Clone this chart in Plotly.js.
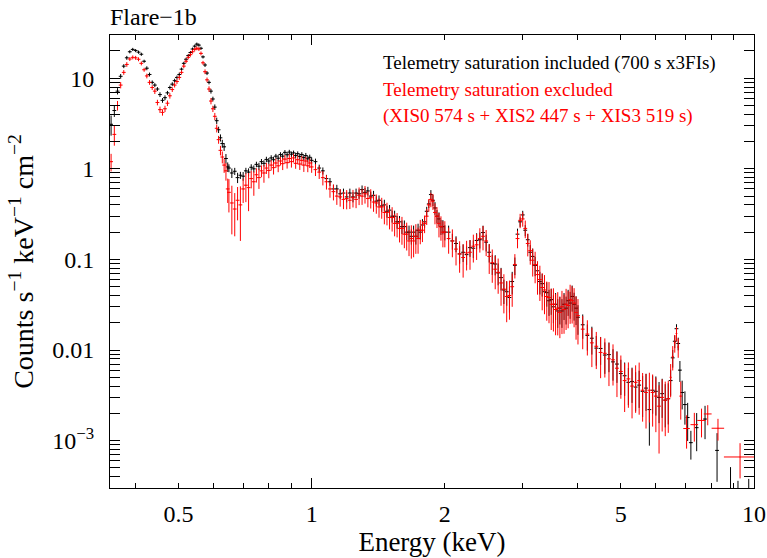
<!DOCTYPE html>
<html><head><meta charset="utf-8">
<script src="https://cdn.plot.ly/plotly-3.0.1.min.js"></script>
<style>html,body{margin:0;padding:0;background:#fff}#chart{width:767px;height:558px}</style>
</head><body><div id="chart"></div>
<script>
// Energy grid (keV), bin centres
const energyKeV = [
0.352,0.358,0.364,0.370,0.376,0.382,0.388,0.394,0.400,0.406,0.412,0.418,0.424,0.430,0.436,0.442,0.448,0.454,0.460,0.466,
0.472,0.478,0.484,0.490,0.496,0.502,0.508,0.514,0.520,0.526,0.532,0.538,0.544,0.550,0.556,0.562,0.568,0.574,0.580,0.586,
0.592,0.598,0.604,0.610,0.616,0.622,0.628,0.634,0.640,0.646,
0.65,0.66,0.67,0.68,0.69,0.70,0.71,0.72,0.73,0.74,0.75,0.76,0.77,0.78,0.79,0.80,0.81,0.82,0.83,0.84,
0.85,0.86,0.87,0.88,0.89,0.90,0.91,0.92,0.93,0.94,0.95,0.96,0.97,0.98,0.99,1.00,
1.02,1.04,1.06,1.08,1.10,1.12,1.14,1.16,1.18,1.20,1.22,1.24,1.26,1.28,1.30,1.32,1.34,1.36,1.38,1.40,
1.42,1.44,1.46,1.48,1.50,1.52,1.54,1.56,1.58,1.60,1.62,1.64,1.66,1.68,1.70,1.72,1.74,1.76,1.78,1.80,
1.82,1.84,1.86,1.88,1.90,1.92,1.94,1.96,1.98,2.00,
2.04,2.08,2.12,2.16,2.20,2.24,2.28,2.32,2.36,2.40,2.44,2.48,2.52,2.56,2.60,2.64,2.68,2.72,2.76,2.80,
2.84,2.88,2.92,2.96,3.00,3.04,3.08,3.12,3.16,3.20,3.24,3.28,3.32,3.36,3.40,3.44,3.48,3.52,3.56,3.60,
3.64,3.68,3.72,3.76,3.80,3.84,3.88,3.92,3.96,4.00,
4.1,4.2,4.3,4.4,4.5,4.6,4.7,4.8,4.9,5.0,5.1,5.2,5.3,5.4,5.5,5.6,5.7,5.8,5.9,6.0,6.1,6.2,6.3,6.4,
6.48,6.55,6.62,6.68,6.74,6.80,6.88,6.98,7.08,7.20,7.42,7.75,8.25,8.85,9.20,9.73];

// Telemetry saturation included (black), counts s^-1 keV^-1 cm^-2
const countsIncluded = [
3.1,4.4,7.2,10.5,13.6,16.8,19.6,20.8,20.2,19.4,18.4,15.4,12.9,11.0,9.0,8.4,7.6,6.6,5.7,6.1,
6.9,7.9,8.6,9.4,10.2,11.0,12.6,14.6,16.2,17.8,19.2,21.0,22.6,23.8,23.2,21.4,17.2,14.0,11.4,9.0,
7.2,5.9,4.8,3.4,2.7,2.2,1.9,1.75,1.3,1.05,
1.02,0.90,0.94,0.80,0.85,0.83,0.95,0.92,1.04,1.00,1.12,1.07,1.20,1.15,1.27,1.22,1.32,1.26,1.38,1.31,
1.44,1.38,1.52,1.43,1.53,1.45,1.50,1.40,1.47,1.37,1.44,1.33,1.40,1.29,1.34,1.24,
1.20,1.02,0.95,0.78,0.72,0.60,0.60,0.53,0.54,0.49,0.54,0.49,0.54,0.53,0.59,0.55,0.57,0.50,0.51,0.44,
0.45,0.39,0.40,0.34,0.35,0.30,0.30,0.26,0.26,0.23,0.23,0.20,0.20,0.18,0.20,0.18,0.21,0.20,0.24,0.26,
0.34,0.41,0.52,0.45,0.37,0.30,0.28,0.23,0.23,0.20,
0.20,0.16,0.15,0.115,0.12,0.113,0.135,0.133,0.162,0.165,0.198,0.155,0.12,0.09,0.089,0.071,0.063,0.046,0.044,0.038,
0.057,0.086,0.19,0.26,0.31,0.21,0.165,0.12,0.108,0.086,0.075,0.057,0.054,0.044,0.043,0.035,0.036,0.030,0.032,0.027,
0.029,0.027,0.032,0.029,0.035,0.033,0.039,0.032,0.029,0.023,
0.019,0.0145,0.0135,0.0105,0.0104,0.0088,0.0089,0.0074,0.0070,0.0055,0.0052,0.0044,0.0045,0.0039,0.0041,0.0035,0.0038,0.0022,0.0036,0.0035,
0.0030,0.0033,0.0028,0.0029,
0.0046,0.0082,0.0125,0.0172,0.0118,0.0060,0.0034,0.0025,0.0018,0.00095,0.00139,0.00173,0.00078,0.0002,0.00015,0.00018];
const errIncludedPct = [
25,15,8,6,5,5,4,4,4,4,4,4,5,5,5,5,5,6,6,6,5,5,5,5,5,5,4,4,4,4,4,4,4,4,4,4,4,5,5,5,6,6,7,8,8,9,10,10,12,12,
10,12,9,13,9,11,8,10,8,9,7,9,7,8,7,8,7,8,6,8,6,8,6,7,6,7,6,7,6,7,6,7,7,8,7,8,
8,9,9,10,10,11,11,12,12,13,12,13,12,12,11,12,11,12,12,13,13,14,14,15,14,15,15,16,16,17,17,18,18,19,18,19,18,17,16,14,12,10,12,14,16,17,18,19,18,19,
18,20,20,22,22,23,21,22,20,20,19,21,23,25,25,27,28,30,30,32,28,22,15,12,11,14,16,20,22,24,26,28,28,30,30,32,32,34,33,35,34,35,33,34,32,33,32,34,35,36,
30,32,34,36,34,38,36,38,38,42,40,44,42,46,44,48,44,60,45,46,48,46,50,48,
32,22,16,12,16,26,35,40,45,35,45,40,55,155,140,110];

// Telemetry saturation excluded (red), same grid up to 6.4 keV
const countsExcluded = [
1.2,2.4,5.0,8.4,11.6,14.2,16.3,17.0,16.8,16.2,14.6,12.4,10.6,9.0,7.9,7.2,5.4,4.5,4.2,4.6,
5.3,6.4,7.5,8.4,9.2,10.2,11.6,13.6,15.4,17.0,18.2,19.6,20.8,21.4,21.0,18.8,14.8,11.8,9.6,7.6,
5.6,4.6,3.8,2.8,2.1,1.6,1.35,1.1,0.95,0.6,
0.55,0.42,0.36,0.45,0.40,0.60,0.66,0.62,0.78,0.72,0.86,0.80,0.95,0.90,1.02,0.96,1.10,1.03,1.16,1.08,
1.22,1.14,1.28,1.17,1.30,1.20,1.32,1.15,1.26,1.13,1.24,1.10,1.22,1.08,1.16,1.05,
0.98,0.92,0.80,0.72,0.60,0.56,0.50,0.49,0.46,0.47,0.45,0.48,0.46,0.51,0.50,0.53,0.47,0.48,0.43,0.42,
0.38,0.38,0.33,0.33,0.29,0.29,0.25,0.25,0.22,0.22,0.19,0.19,0.16,0.17,0.16,0.18,0.17,0.21,0.21,0.25,
0.30,0.40,0.46,0.44,0.33,0.30,0.25,0.23,0.20,0.20,
0.17,0.16,0.13,0.115,0.105,0.118,0.12,0.14,0.145,0.17,0.18,0.16,0.108,0.092,0.078,0.072,0.055,0.047,0.039,0.040,
0.050,0.088,0.17,0.27,0.28,0.22,0.15,0.125,0.098,0.088,0.068,0.060,0.049,0.046,0.039,0.038,0.032,0.032,0.028,0.029,
0.026,0.030,0.028,0.032,0.031,0.036,0.035,0.033,0.026,0.024,
0.017,0.0150,0.0120,0.0110,0.0094,0.0092,0.0080,0.0078,0.0063,0.0058,0.0046,0.0048,0.0040,0.0044,0.0046,0.0036,0.0034,0.0036,0.0034,0.0031,
0.0024,0.0030,0.0028,0.0029];
const errExcludedPct = [
22,25,12,8,6,6,5,5,5,5,5,5,6,6,6,7,7,8,8,8,7,7,6,6,6,6,5,5,5,5,5,5,5,5,5,5,5,6,6,7,8,8,9,10,10,12,15,18,22,30,
40,55,50,40,60,30,35,45,22,30,18,25,15,22,14,18,13,16,12,15,11,15,11,14,11,14,11,13,11,14,12,16,11,15,12,14,
15,16,18,18,20,20,20,22,22,24,20,22,20,22,20,22,20,24,22,24,24,26,26,28,26,30,28,30,30,34,30,34,32,40,34,36,32,30,26,22,20,16,18,20,26,26,30,30,32,32,
32,34,34,38,40,36,36,34,32,30,30,32,36,40,40,42,44,46,48,46,40,30,22,18,18,22,28,30,34,38,40,42,44,46,46,48,48,50,48,50,48,50,46,48,44,46,44,46,50,52,
40,42,46,44,48,46,50,48,52,50,55,52,56,54,58,55,60,56,58,60,70,58,60,58];

// Red high-energy bins (wider grouping)
const energyExcludedTail = [6.48,6.55,6.62,6.68,6.74,6.83,7.04,7.33,7.61,7.86,8.29,9.30];
const countsExcludedTail = [0.0050,0.0085,0.0120,0.0152,0.0108,0.0031,0.00136,0.00150,0.00167,0.00197,0.00137,0.00066];
const errExcludedTailPct = [40,30,22,18,24,45,40,35,35,25,27,42];
const halfWidthExcludedTail = [0.035,0.035,0.03,0.03,0.03,0.05,0.12,0.145,0.165,0.16,0.27,0.75];

const xTickVals = [0.5,1,2,5,10];
const xTickText = ['0.5','1','2','5','10'];
const xMinorVals = [0.4,0.6,0.7,0.8,0.9,3,4,6,7,8,9];
const yTickVals = [0.001,0.01,0.1,1,10];
const yTickText = ['10<sup>−3</sup>','0.01','0.1','1','10'];
const yMinorVals = [];
[0.0001,0.001,0.01,0.1,1,10].forEach(d=>{for(let k=2;k<=9;k++) yMinorVals.push(+(d*k).toPrecision(3));});

const nRed = countsExcluded.length;
const abs = (vals,pct)=>vals.map((v,i)=>v*pct[i]/100);

const serif = 'Liberation Serif';
const traces = [
 {type:'scatter',mode:'markers',x:energyKeV,y:countsIncluded,
  marker:{size:1,color:'#000'},
  error_y:{type:'data',array:abs(countsIncluded,errIncludedPct),color:'#000',thickness:1,width:0},
  error_x:{type:'percent',value:1.0,color:'#000',thickness:1,width:0},
  showlegend:false,hoverinfo:'skip'},
 {type:'scatter',mode:'markers',x:energyKeV.slice(0,nRed),y:countsExcluded,
  marker:{size:1,color:'#ff0000'},
  error_y:{type:'data',array:abs(countsExcluded,errExcludedPct),color:'#ff0000',thickness:1,width:0},
  error_x:{type:'percent',value:1.0,color:'#ff0000',thickness:1,width:0},
  showlegend:false,hoverinfo:'skip'},
 {type:'scatter',mode:'markers',x:energyExcludedTail,y:countsExcludedTail,
  marker:{size:1,color:'#ff0000'},
  error_y:{type:'data',array:abs(countsExcludedTail,errExcludedTailPct),color:'#ff0000',thickness:1,width:0},
  error_x:{type:'data',array:halfWidthExcludedTail,color:'#ff0000',thickness:1,width:0},
  showlegend:false,hoverinfo:'skip'},
 {type:'scatter',mode:'markers',x:[0.5],y:[1],xaxis:'x2',yaxis:'y',marker:{size:1,opacity:0},showlegend:false,hoverinfo:'skip'}
];

const xr = [Math.log10(0.35), 1];
const yr = [Math.log10(3e-4), Math.log10(30)];
const layout = {
 width:767,height:558,
 margin:{l:110,r:13,t:35,b:70},
 paper_bgcolor:'#fff',plot_bgcolor:'#fff',
 font:{family:serif,color:'#000'},
 showlegend:false,
 title:{text:'Flare−1b',font:{family:serif,size:24,color:'#000'},x:0,xref:'paper',xanchor:'left',y:1-17/558,yref:'container',yanchor:'middle'},
 xaxis:{type:'log',range:xr,showgrid:false,zeroline:false,showline:true,linecolor:'#000',linewidth:1,mirror:'allticks',
  ticks:'inside',ticklen:5,tickwidth:1,tickcolor:'#000',tickmode:'array',tickvals:xTickVals,ticktext:xTickText,
  tickfont:{family:serif,size:24,color:'#000'},ticklabelstandoff:4,
  minor:{ticks:'inside',ticklen:5,tickwidth:1,tickcolor:'#000',tickmode:'array',tickvals:xMinorVals,showgrid:false},
  title:{text:'Energy (keV)',font:{family:serif,size:27,color:'#000'},standoff:2}},
 xaxis2:{type:'log',range:xr,overlaying:'x',anchor:'y',side:'bottom',showgrid:false,zeroline:false,showline:false,mirror:'allticks',
  ticks:'inside',ticklen:10,tickwidth:1,tickcolor:'#000',tickmode:'array',tickvals:[1,10],showticklabels:false},
 yaxis:{type:'log',range:yr,showgrid:false,zeroline:false,showline:true,linecolor:'#000',linewidth:1,mirror:'allticks',
  ticks:'inside',ticklen:10,tickwidth:1,tickcolor:'#000',tickmode:'array',tickvals:yTickVals,ticktext:yTickText,
  tickfont:{family:serif,size:24,color:'#000'},ticklabelstandoff:10,
  minor:{ticks:'inside',ticklen:5,tickwidth:1,tickcolor:'#000',tickmode:'array',tickvals:yMinorVals,showgrid:false},
  title:{text:'Counts s<sup>−1</sup> keV<sup>−1</sup> cm<sup>−2</sup>',font:{family:serif,size:28,color:'#000'},standoff:10}},
 annotations:[
  {text:'Telemetry saturation included (700 s x3FIs)',xref:'paper',yref:'paper',x:(381-110)/644,y:(488-63)/453,xanchor:'left',yanchor:'middle',showarrow:false,font:{family:serif,size:19,color:'#000'}},
  {text:'Telemetry saturation excluded',xref:'paper',yref:'paper',x:(381-110)/644,y:(488-90)/453,xanchor:'left',yanchor:'middle',showarrow:false,font:{family:serif,size:19,color:'#ff0000'}},
  {text:'(XIS0 574 s + XIS2 447 s + XIS3 519 s)',xref:'paper',yref:'paper',x:(381-110)/644,y:(488-116)/453,xanchor:'left',yanchor:'middle',showarrow:false,font:{family:serif,size:19,color:'#ff0000'}}
 ]
};
Plotly.newPlot('chart',traces,layout,{staticPlot:true,displayModeBar:false});
</script></body></html>
